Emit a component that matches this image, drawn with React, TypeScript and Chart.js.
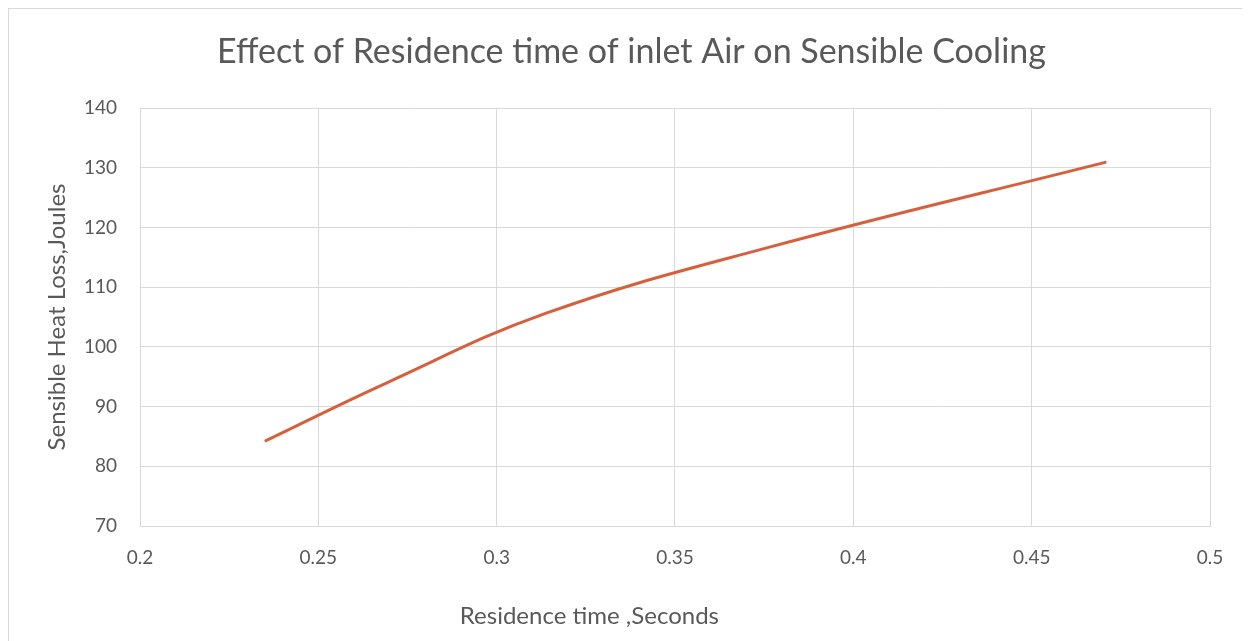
import React, { useEffect, useRef } from "react";
import { Chart, registerables } from "chart.js";

Chart.register(...registerables);

const residenceTime = [0.2353, 0.2689, 0.3137, 0.3765, 0.4706];
const sensibleHeatLoss = [84.3, 93.9, 105.6, 116.7, 130.9];

const chartTitle = "Effect of Residence time of inlet Air on Sensible Cooling";
const xAxisTitle = "Residence time ,Seconds";
const yAxisTitle = "Sensible Heat Loss,Joules";

const xMin = 0.2;
const xMax = 0.5;
const xStep = 0.05;
const yMin = 70;
const yMax = 140;
const yStep = 10;

const FONT = "Lato, 'Open Sans', sans-serif";
const TEXT = "#595959";
const GRID = "#d9d9d9";
const LINE = "#d6603c";

const titlesPlugin = {
  id: "titlesPlugin",
  afterDraw(chart: any) {
    const { ctx, chartArea, width } = chart;
    ctx.save();
    ctx.fillStyle = TEXT;
    ctx.textAlign = "center";
    ctx.textBaseline = "middle";
    ctx.font = `34px ${FONT}`;
    ctx.fillText(chartTitle, width / 2 + 2, 43);
    ctx.font = `24px ${FONT}`;
    const cx = chartArea.left + (chartArea.right - chartArea.left) * 0.42;
    ctx.fillText(xAxisTitle, cx, chartArea.bottom + 90);
    ctx.restore();
  },
};

export default function App() {
  const ref = useRef<HTMLCanvasElement>(null);
  useEffect(() => {
    if (!ref.current) return;
    const data = residenceTime.map((x, i) => ({ x, y: sensibleHeatLoss[i] }));
    const chart = new Chart(ref.current, {
      type: "scatter",
      data: {
        datasets: [
          {
            label: "Sensible Heat Loss",
            data,
            showLine: true,
            borderColor: LINE,
            backgroundColor: LINE,
            borderWidth: 3,
            pointRadius: 0,
            tension: 0.4,
            borderCapStyle: "round",
          },
        ],
      },
      options: {
        animation: false,
        responsive: false,
        maintainAspectRatio: false,
        layout: { padding: { left: 0, right: 40, top: 99, bottom: 0 } },
        plugins: {
          legend: { display: false },
          tooltip: { enabled: false },
          title: { display: false },
        },
        scales: {
          x: {
            type: "linear",
            min: xMin,
            max: xMax,
            border: { color: GRID },
            grid: { color: GRID, drawTicks: false },
            ticks: {
              stepSize: xStep,
              color: TEXT,
              padding: 20,
              font: { family: FONT, size: 19 },
              callback: (v: any) => String(Number(Number(v).toFixed(2))),
            },
            afterFit: (scale: any) => {
              scale.height = 115;
            },
          },
          y: {
            type: "linear",
            min: yMin,
            max: yMax,
            border: { color: GRID },
            grid: { color: GRID, drawTicks: false },
            ticks: {
              stepSize: yStep,
              color: TEXT,
              padding: 23,
              font: { family: FONT, size: 19 },
            },
            title: {
              display: true,
              text: yAxisTitle,
              color: TEXT,
              font: { family: FONT, size: 24 },
              padding: { top: 34, bottom: 0 },
            },
            afterFit: (scale: any) => {
              scale.width = 131;
            },
          },
        },
      },
      plugins: [titlesPlugin],
    });
    return () => chart.destroy();
  }, []);
  return (
    <div
      style={{
        width: 1242,
        height: 633,
        borderLeft: "1px solid #d9d9d9",
        borderTop: "1px solid #d9d9d9",
        boxSizing: "border-box",
        background: "#fff",
      }}
    >
      <canvas ref={ref} width={1241} height={632} style={{ display: "block" }} />
    </div>
  );
}
